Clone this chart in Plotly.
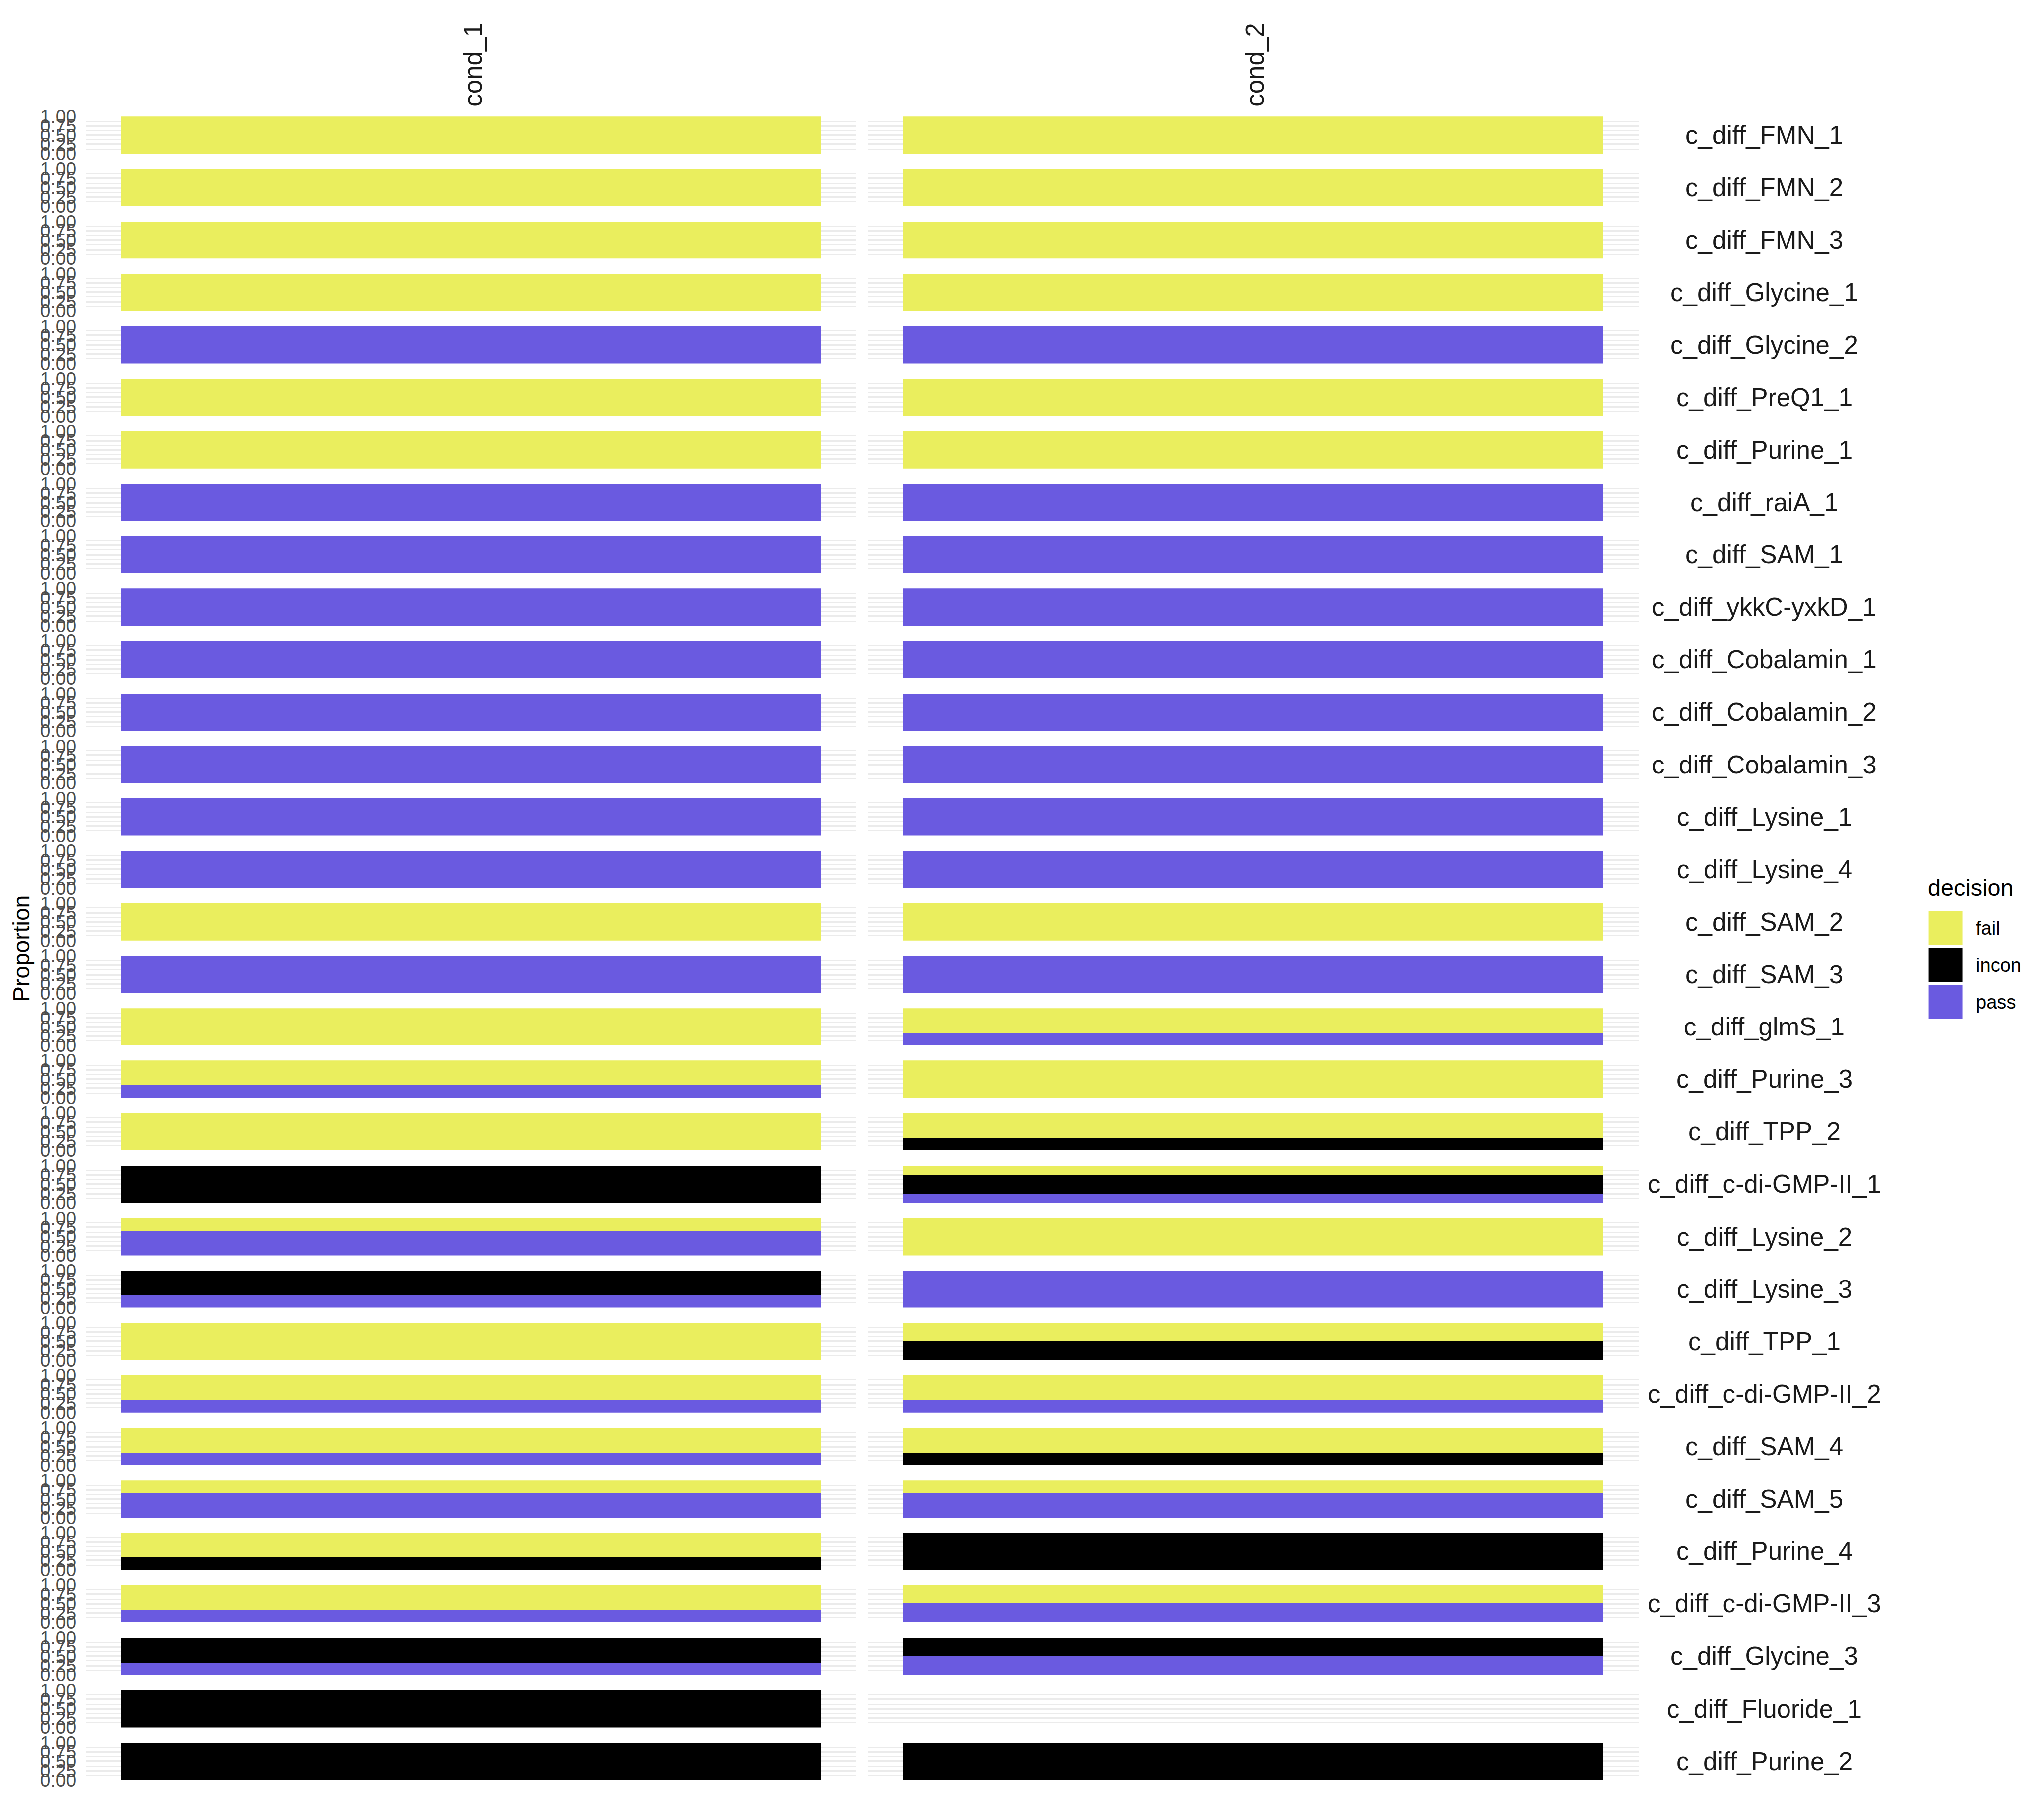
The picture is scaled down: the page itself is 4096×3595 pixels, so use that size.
import plotly.graph_objects as go

# ---------------- data ----------------
riboswitches = [
    "c_diff_FMN_1", "c_diff_FMN_2", "c_diff_FMN_3", "c_diff_Glycine_1", "c_diff_Glycine_2",
    "c_diff_PreQ1_1", "c_diff_Purine_1", "c_diff_raiA_1", "c_diff_SAM_1", "c_diff_ykkC-yxkD_1",
    "c_diff_Cobalamin_1", "c_diff_Cobalamin_2", "c_diff_Cobalamin_3", "c_diff_Lysine_1",
    "c_diff_Lysine_4", "c_diff_SAM_2", "c_diff_SAM_3", "c_diff_glmS_1", "c_diff_Purine_3",
    "c_diff_TPP_2", "c_diff_c-di-GMP-II_1", "c_diff_Lysine_2", "c_diff_Lysine_3", "c_diff_TPP_1",
    "c_diff_c-di-GMP-II_2", "c_diff_SAM_4", "c_diff_SAM_5", "c_diff_Purine_4",
    "c_diff_c-di-GMP-II_3", "c_diff_Glycine_3", "c_diff_Fluoride_1", "c_diff_Purine_2",
]
conditions = ["cond_1", "cond_2"]
decisions = ["fail", "incon", "pass"]

# proportions per riboswitch (None = no data in that panel)
fail_c1 = [1, 1, 1, 1, 0, 1, 1, 0, 0, 0, 0, 0, 0, 0, 0, 1, 0, 1, 0.667, 1,
           0, 0.333, 0, 1, 0.667, 0.667, 0.333, 0.667, 0.667, 0, 0, 0]
incon_c1 = [0, 0, 0, 0, 0, 0, 0, 0, 0, 0, 0, 0, 0, 0, 0, 0, 0, 0, 0, 0,
            1, 0, 0.667, 0, 0, 0, 0, 0.333, 0, 0.667, 1, 1]
pass_c1 = [0, 0, 0, 0, 1, 0, 0, 1, 1, 1, 1, 1, 1, 1, 1, 0, 1, 0, 0.333, 0,
           0, 0.667, 0.333, 0, 0.333, 0.333, 0.667, 0, 0.333, 0.333, 0, 0]

fail_c2 = [1, 1, 1, 1, 0, 1, 1, 0, 0, 0, 0, 0, 0, 0, 0, 1, 0, 0.667, 1, 0.667,
           0.25, 1, 0, 0.5, 0.667, 0.667, 0.333, 0, 0.5, 0, None, 0]
incon_c2 = [0, 0, 0, 0, 0, 0, 0, 0, 0, 0, 0, 0, 0, 0, 0, 0, 0, 0, 0, 0.333,
            0.5, 0, 0, 0.5, 0, 0.333, 0, 1, 0, 0.5, None, 1]
pass_c2 = [0, 0, 0, 0, 1, 0, 0, 1, 1, 1, 1, 1, 1, 1, 1, 0, 1, 0.333, 0, 0,
           0.25, 0, 1, 0, 0.333, 0, 0.667, 0, 0.5, 0.5, None, 0]

y_tick_vals = [0, 0.25, 0.5, 0.75, 1]
y_tick_text = ["0.00", "0.25", "0.50", "0.75", "1.00"]
y_minor_vals = [0.125, 0.375, 0.625, 0.875]

colors = {"fail": "#EAEE5E", "incon": "#000000", "pass": "#6A5AE0"}

# ---------------- geometry (reference pixels -> paper) ----------------
W_REF, H_REF = 4248, 3728
W, H = 4096, 3595
S = W / W_REF
FONT = "Liberation Sans, Arial, sans-serif"


def px_x(x):
    return x / W_REF


def px_y(y):
    return 1 - y / H_REF


col_x = [(179.5, 1780.0), (1804.0, 3406.0)]
row_top0, row_period, row_h = 242.0, 109.0, 77.5

data_by_cond = [
    {"fail": fail_c1, "incon": incon_c1, "pass": pass_c1},
    {"fail": fail_c2, "incon": incon_c2, "pass": pass_c2},
]

fig = go.Figure()
layout_axes = {}
annotations = []
n = 0
for r, name in enumerate(riboswitches):
    top = row_top0 + row_period * r
    bot = top + row_h
    for c, cond in enumerate(conditions):
        n += 1
        xa = "x" if n == 1 else f"x{n}"
        ya = "y" if n == 1 else f"y{n}"
        xk = "xaxis" if n == 1 else f"xaxis{n}"
        yk = "yaxis" if n == 1 else f"yaxis{n}"
        layout_axes[xk] = dict(
            domain=[px_x(col_x[c][0]), px_x(col_x[c][1])], range=[-0.55, 0.55],
            anchor=ya, showgrid=False, zeroline=False, showticklabels=False,
            ticks="", showline=False, fixedrange=True, automargin=False,
        )
        layout_axes[yk] = dict(
            domain=[px_y(bot), px_y(top)], range=[0, 1], anchor=xa,
            tickmode="array", tickvals=y_tick_vals, ticktext=y_tick_text,
            showgrid=True, gridcolor="#EBEBEB", gridwidth=4.2 * S,
            minor=dict(tickvals=y_minor_vals, showgrid=True, gridcolor="#EBEBEB",
                       gridwidth=2.0 * S, ticks=""),
            zeroline=False, showline=False, ticks="", automargin=False,
            showticklabels=(c == 0), ticklabelstandoff=int(round(20 * S)),
            tickfont=dict(family=FONT, size=38.5 * S, color="#4D4D4D"),
            fixedrange=True,
        )
        d = data_by_cond[c]
        if d["fail"][r] is None:
            # empty panel: keep the subplot (grid only)
            fig.add_trace(go.Bar(x=[], y=[], xaxis=xa, yaxis=ya, showlegend=False))
            continue
        # stack from bottom: pass, incon, fail
        for dec in ["pass", "incon", "fail"]:
            v = d[dec][r]
            fig.add_trace(go.Bar(
                x=[0], y=[v], width=[1.0], xaxis=xa, yaxis=ya,
                marker=dict(color=colors[dec], line=dict(width=0)),
                name=dec, showlegend=False,
            ))
    # right strip label
    annotations.append(dict(
        x=px_x(3667), y=px_y((top + bot) / 2), xref="paper", yref="paper",
        text=name, showarrow=False, xanchor="center", yanchor="middle",
        font=dict(family=FONT, size=53 * S, color="#1A1A1A"),
    ))

# top strip labels
for c, cond in enumerate(conditions):
    annotations.append(dict(
        x=px_x((col_x[c][0] + col_x[c][1]) / 2 + 3), y=px_y(135), xref="paper", yref="paper",
        text=cond, showarrow=False, textangle=-90, xanchor="center", yanchor="middle",
        font=dict(family=FONT, size=53 * S, color="#1A1A1A"),
    ))

# y-axis title
annotations.append(dict(
    x=px_x(44), y=px_y(1971), xref="paper", yref="paper", text="Proportion",
    showarrow=False, textangle=-90, xanchor="center", yanchor="middle",
    font=dict(family=FONT, size=48 * S, color="#000000"),
))

# legend (drawn manually to match key size)
annotations.append(dict(
    x=px_x(4004), y=px_y(1845), xref="paper", yref="paper", text="decision",
    showarrow=False, xanchor="left", yanchor="middle",
    font=dict(family=FONT, size=48.5 * S, color="#000000"),
))
shapes = []
key_tops = [1893.3, 1970.3, 2047.0]
for dec, kt in zip(decisions, key_tops):
    shapes.append(dict(
        type="rect", xref="paper", yref="paper",
        x0=px_x(4008), x1=px_x(4078.5), y0=px_y(kt + 70.4), y1=px_y(kt),
        fillcolor=colors[dec], line=dict(width=0),
    ))
    annotations.append(dict(
        x=px_x(4104), y=px_y(kt + 35.2), xref="paper", yref="paper", text=dec,
        showarrow=False, xanchor="left", yanchor="middle",
        font=dict(family=FONT, size=39.5 * S, color="#000000"),
    ))

fig.update_layout(
    width=W, height=H, margin=dict(l=0, r=0, t=0, b=0, autoexpand=False),
    paper_bgcolor="white", plot_bgcolor="white",
    barmode="stack", bargap=0, showlegend=False,
    annotations=annotations, shapes=shapes,
    **layout_axes,
)

fig.write_html("out.html")
